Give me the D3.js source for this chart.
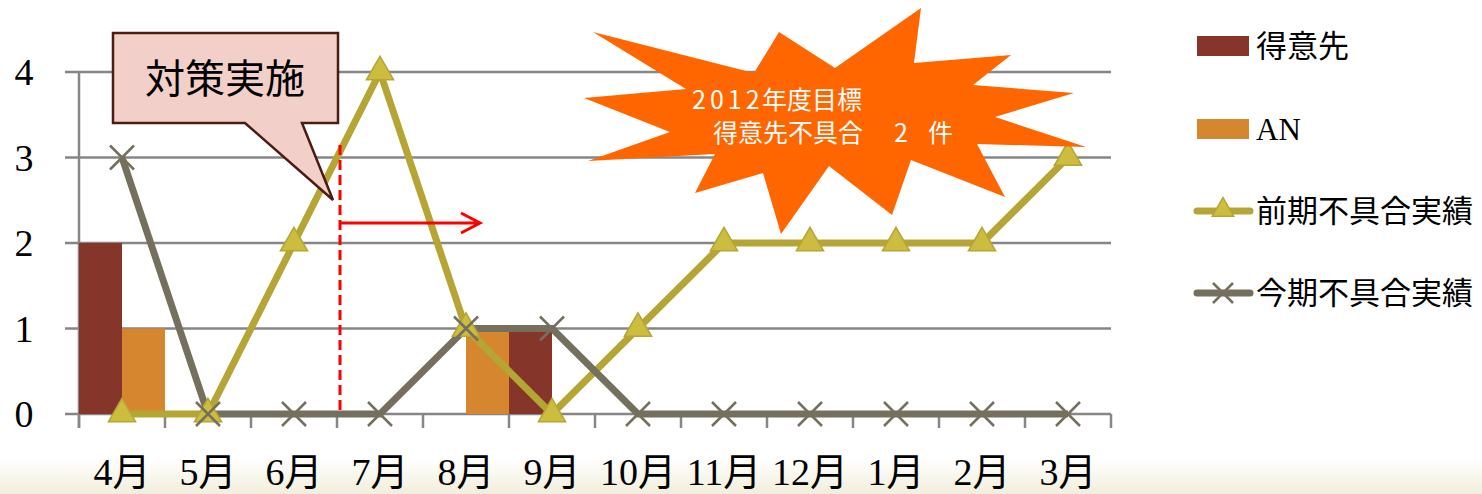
<!DOCTYPE html>
<html>
<head>
<meta charset="utf-8">
<script src="https://cdn.jsdelivr.net/npm/d3@7"></script>
<style>
	html, body { margin: 0; padding: 0; background: #fff; }
	svg { display: block; }
</style>
</head>
<body>
<div id="chart"></div>
<script>
var width = 1482;
var height = 494;

// data
var months = ["4月", "5月", "6月", "7月", "8月", "9月", "10月", "11月", "12月", "1月", "2月", "3月"];
var tokuisaki = [2, 0, 0, 0, 0, 1, 0, 0, 0, 0, 0, 0];
var an = [1, 0, 0, 0, 1, 0, 0, 0, 0, 0, 0, 0];
var zenki = [0, 0, 2, 4, 1, 0, 1, 2, 2, 2, 2, 3];
var konki = [3, 0, 0, 0, 1, 1, 0, 0, 0, 0, 0, 0];
var yTicks = [0, 1, 2, 3, 4];
var legendNames = ["得意先", "AN", "前期不具合実績", "今期不具合実績"];

var colors = {
	tokuisaki: "#86352a",
	an: "#d5862f",
	zenki: "#b5a535",
	zenkiMarker: "#cdbd3f",
	konki: "#756f5e",
	grid: "#868686"
};

var fontMix = "'Liberation Serif', 'Noto Sans CJK JP', serif";
var fontJP = "'Noto Sans CJK JP', sans-serif";

var svg = d3.select("#chart").append("svg")
	.attr("width", width)
	.attr("height", height)
	.attr("viewBox", [0, 0, width, height]);

// cream band at the bottom of the slide
var defs = svg.append("defs");
var grad = defs.append("linearGradient")
	.attr("id", "bottomGrad")
	.attr("x1", 0).attr("y1", 0).attr("x2", 0).attr("y2", 1);
grad.append("stop").attr("offset", "0%").attr("stop-color", "#ffffff");
grad.append("stop").attr("offset", "100%").attr("stop-color", "#f1eedb");
svg.append("rect")
	.attr("x", 0).attr("y", 458)
	.attr("width", width).attr("height", height - 458)
	.attr("fill", "url(#bottomGrad)");

// scales
var x = d3.scaleBand()
	.domain(months)
	.range([79, 1111])
	.padding(0);

var y = d3.scaleLinear()
	.domain([0, 4])
	.range([414, 72]);

var cx = d => x(d) + x.bandwidth() / 2;

// gridlines
svg.append("g")
	.selectAll("line")
	.data(yTicks)
	.join("line")
	.attr("x1", 65)
	.attr("x2", x.range()[1])
	.attr("y1", d => y(d))
	.attr("y2", d => y(d))
	.attr("stroke", colors.grid)
	.attr("stroke-width", 2.5);

// y axis line
svg.append("line")
	.attr("x1", x.range()[0]).attr("x2", x.range()[0])
	.attr("y1", y(4)).attr("y2", y(0) + 14)
	.attr("stroke", colors.grid)
	.attr("stroke-width", 2.5);

// x ticks at band edges
var edges = months.map(m => x(m)).concat([x.range()[1]]);
svg.append("g")
	.selectAll("line")
	.data(edges)
	.join("line")
	.attr("x1", d => d).attr("x2", d => d)
	.attr("y1", y(0)).attr("y2", y(0) + 14)
	.attr("stroke", colors.grid)
	.attr("stroke-width", 2.5);

// y labels
svg.append("g")
	.selectAll("text")
	.data(yTicks)
	.join("text")
	.attr("x", 24)
	.attr("y", d => y(d))
	.attr("dy", "0.35em")
	.attr("text-anchor", "middle")
	.style("font", "38px " + fontMix)
	.text(d => d);

// x labels
svg.append("g")
	.selectAll("text")
	.data(months)
	.join("text")
	.attr("x", d => cx(d))
	.attr("y", 485)
	.attr("text-anchor", "middle")
	.style("font", "38px " + fontMix)
	.text(d => d);

// bars
var bw = x.bandwidth() / 2;
svg.append("g")
	.selectAll("rect")
	.data(months)
	.join("rect")
	.attr("x", d => x(d))
	.attr("y", (d, i) => y(tokuisaki[i]))
	.attr("width", bw)
	.attr("height", (d, i) => y(0) - y(tokuisaki[i]))
	.attr("fill", colors.tokuisaki);

svg.append("g")
	.selectAll("rect")
	.data(months)
	.join("rect")
	.attr("x", d => x(d) + bw)
	.attr("y", (d, i) => y(an[i]))
	.attr("width", bw)
	.attr("height", (d, i) => y(0) - y(an[i]))
	.attr("fill", colors.an);

// lines
var line = d3.line()
	.x((d, i) => cx(months[i]))
	.y(d => y(d));

svg.append("path")
	.datum(zenki)
	.attr("d", line)
	.attr("fill", "none")
	.attr("stroke", colors.zenki)
	.attr("stroke-width", 7);

svg.append("path")
	.datum(konki)
	.attr("d", line)
	.attr("fill", "none")
	.attr("stroke", colors.konki)
	.attr("stroke-width", 7);

// markers
var tri = d3.symbol().type(d3.symbolTriangle).size(320);
svg.append("g")
	.selectAll("path")
	.data(zenki)
	.join("path")
	.attr("transform", (d, i) => `translate(${cx(months[i])},${y(d)})`)
	.attr("d", tri)
	.attr("fill", colors.zenkiMarker)
	.attr("stroke", colors.zenki)
	.attr("stroke-width", 1.5);

var crossPath = "M-12,-12L12,12M12,-12L-12,12";
svg.append("g")
	.selectAll("path")
	.data(konki)
	.join("path")
	.attr("transform", (d, i) => `translate(${cx(months[i])},${y(d)})`)
	.attr("d", crossPath)
	.attr("fill", "none")
	.attr("stroke", colors.konki)
	.attr("stroke-width", 2.5);

// legend
var legend = svg.append("g");
var legY = [46, 129, 211, 293];
legend.append("rect").attr("x", 1197).attr("y", legY[0] - 10).attr("width", 52).attr("height", 20).attr("fill", colors.tokuisaki);
legend.append("rect").attr("x", 1197).attr("y", legY[1] - 10).attr("width", 52).attr("height", 20).attr("fill", colors.an);
legend.append("line")
	.attr("x1", 1197).attr("x2", 1250).attr("y1", legY[2]).attr("y2", legY[2])
	.attr("stroke", colors.zenki).attr("stroke-width", 7).attr("stroke-linecap", "round");
legend.append("path")
	.attr("transform", `translate(1223,${legY[2] - 1})`)
	.attr("d", d3.symbol().type(d3.symbolTriangle).size(200))
	.attr("fill", colors.zenkiMarker)
	.attr("stroke", colors.zenki)
	.attr("stroke-width", 1.5);
legend.append("line")
	.attr("x1", 1197).attr("x2", 1250).attr("y1", legY[3]).attr("y2", legY[3])
	.attr("stroke", colors.konki).attr("stroke-width", 7).attr("stroke-linecap", "round");
legend.append("path")
	.attr("transform", `translate(1223,${legY[3]})`)
	.attr("d", "M-10,-10L10,10M10,-10L-10,10")
	.attr("fill", "none")
	.attr("stroke", colors.konki)
	.attr("stroke-width", 2.5);

legend.selectAll("text")
	.data(legendNames)
	.join("text")
	.attr("x", 1256)
	.attr("y", (d, i) => legY[i])
	.attr("dy", "0.36em")
	.style("font", "31px " + fontMix)
	.text(d => d);

// red dashed line + arrow (対策実施 timing)
svg.append("line")
	.attr("x1", 340).attr("x2", 340)
	.attr("y1", 145).attr("y2", y(0))
	.attr("stroke", "#ff0000")
	.attr("stroke-width", 3)
	.attr("stroke-dasharray", "10,5");
svg.append("path")
	.attr("d", "M340,223L480,223M461,213L480,223L461,233")
	.attr("fill", "none")
	.attr("stroke", "#ff0000")
	.attr("stroke-width", 3);

// callout
svg.append("path")
	.attr("d", "M113,33L338,33L338,123L302,123L333,200L245,123L113,123Z")
	.attr("fill", "#f2d0c9")
	.attr("stroke", "#4b1c12")
	.attr("stroke-width", 2.5)
	.attr("stroke-linejoin", "miter");
svg.append("text")
	.attr("x", 225)
	.attr("y", 79)
	.attr("dy", "0.36em")
	.attr("text-anchor", "middle")
	.style("font", "40px " + fontJP)
	.text("対策実施");

// starburst
var burst = [
	[593, 32], [754, 73], [779, 32], [835, 68], [921, 8], [914, 63],
	[1011, 55], [973, 85], [1074, 93], [995, 117], [1086, 147], [977, 144],
	[1005, 197], [911, 160], [892, 215], [829, 166], [781, 234], [763, 173],
	[695, 193], [715, 154], [588, 161], [670, 132], [584, 98], [686, 89]
];
svg.append("path")
	.attr("d", d3.line()(burst) + "Z")
	.attr("fill", "#ff6600");

var burstText = svg.append("text")
	.attr("fill", "#ffffff")
	.style("font", "25px " + fontJP);
burstText.append("tspan")
	.attr("x", 692).attr("y", 109)
	.attr("letter-spacing", "4px")
	.text("2012");
burstText.append("tspan")
	.attr("x", 762)
	.text("年度目標");
burstText.append("tspan")
	.attr("x", 713).attr("y", 142)
	.text("得意先不具合");
burstText.append("tspan")
	.attr("x", 894)
	.text("2");
burstText.append("tspan")
	.attr("x", 928)
	.text("件");
</script>
</body>
</html>
